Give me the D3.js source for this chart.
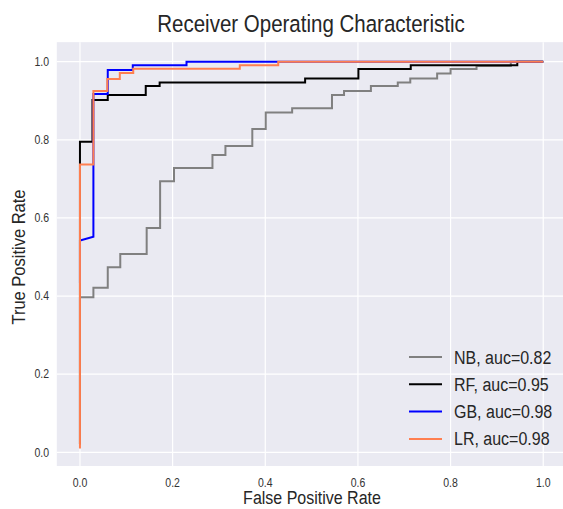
<!DOCTYPE html>
<html>
<head>
<meta charset="utf-8">
<script src="https://cdn.jsdelivr.net/npm/d3@7"></script>
<style>
  body { margin: 0; background: #fff; }
  text { font-family: "Liberation Sans", Arial, sans-serif; }
</style>
</head>
<body>
<div id="chart"></div>
<script>
// ROC points
const nbFpr = [0, 0, 0.029, 0.029, 0.06, 0.06, 0.087, 0.087, 0.144, 0.144, 0.173, 0.173, 0.203, 0.203, 0.286, 0.286, 0.314, 0.314, 0.372, 0.372, 0.401, 0.401, 0.458, 0.458, 0.544, 0.544, 0.57, 0.57, 0.628, 0.628, 0.686, 0.686, 0.713, 0.713, 0.771, 0.771, 0.8, 0.8, 0.856, 0.856, 0.93, 0.93, 1];
const nbTpr = [0.02, 0.397, 0.397, 0.421, 0.421, 0.474, 0.474, 0.508, 0.508, 0.574, 0.574, 0.694, 0.694, 0.728, 0.728, 0.761, 0.761, 0.784, 0.784, 0.828, 0.828, 0.87, 0.87, 0.881, 0.881, 0.915, 0.915, 0.925, 0.925, 0.938, 0.938, 0.947, 0.947, 0.957, 0.957, 0.97, 0.97, 0.981, 0.981, 0.989, 0.989, 1, 1];

const rfFpr = [0, 0, 0.027, 0.027, 0.06, 0.06, 0.142, 0.142, 0.172, 0.172, 0.486, 0.486, 0.601, 0.601, 0.714, 0.714, 0.944, 0.944, 1];
const rfTpr = [0.02, 0.795, 0.795, 0.902, 0.902, 0.915, 0.915, 0.938, 0.938, 0.947, 0.947, 0.957, 0.957, 0.981, 0.981, 0.991, 0.991, 1, 1];

const gbFpr = [0, 0, 0.029, 0.029, 0.06, 0.06, 0.114, 0.114, 0.23, 0.23, 1];
const gbTpr = [0.433, 0.542, 0.552, 0.917, 0.917, 0.979, 0.979, 0.991, 0.991, 1, 1];

const lrFpr = [0, 0, 0.029, 0.029, 0.059, 0.059, 0.086, 0.086, 0.115, 0.115, 0.345, 0.345, 0.428, 0.428, 1];
const lrTpr = [0.01, 0.737, 0.737, 0.925, 0.925, 0.956, 0.956, 0.971, 0.971, 0.982, 0.982, 0.991, 0.991, 1, 1];

const models = ["NB", "RF", "GB", "LR"];
const aucs = [0.82, 0.95, 0.98, 0.98];
const colors = ["#808080", "#000000", "#0000ff", "#ff7f50"];
const ticks = [0, 0.2, 0.4, 0.6, 0.8, 1.0];

const series = [[nbFpr, nbTpr], [rfFpr, rfTpr], [gbFpr, gbTpr], [lrFpr, lrTpr]]
    .map((s, i) => ({
        name: models[i], auc: aucs[i], color: colors[i],
        pts: s[0].map((f, j) => [f, s[1][j]])
    }));

const width = 563, height = 509;
const stretch = 1.13; // text in the picture is a bit taller than wide

const svg = d3.select("#chart").append("svg")
    .attr("width", width).attr("height", height);

let x = d3.scaleLinear().domain([-0.05, 1.05]).range([56.8, 566.4]);
let y = d3.scaleLinear().domain([0, 1]).range([452.3, 61.7]);

// plot background
svg.append("rect")
    .attr("x", x(-0.05)).attr("y", y(1.05))
    .attr("width", x(1.05) - x(-0.05))
    .attr("height", y(-0.035) - y(1.05))
    .attr("fill", "#eaeaf2");

let g = svg.append("g");

g.selectAll(".vgrid").data(ticks).enter().append("line")
    .attr("x1", d => x(d)).attr("x2", d => x(d))
    .attr("y1", y(1.05)).attr("y2", y(-0.035))
    .attr("stroke", "#fff").attr("stroke-width", 1.2);

g.selectAll(".hgrid").data(ticks).enter().append("line")
    .attr("y1", d => y(d)).attr("y2", d => y(d))
    .attr("x1", x(-0.05)).attr("x2", x(1.05))
    .attr("stroke", "#fff").attr("stroke-width", 1.2);

// tick labels
g.selectAll(".xt").data(ticks).enter().append("text")
    .attr("transform", d => `translate(${x(d)}, 487) scale(1, ${stretch})`)
    .attr("text-anchor", "middle")
    .attr("font-size", 10.5).attr("fill", "#333")
    .text(d => d.toFixed(1));

g.selectAll(".yt").data(ticks).enter().append("text")
    .attr("transform", d => `translate(49, ${y(d) + 4.3}) scale(1, ${stretch})`)
    .attr("text-anchor", "end")
    .attr("font-size", 10.5).attr("fill", "#333")
    .text(d => d.toFixed(1));

// curves
let line = d3.line().x(d => x(d[0])).y(d => y(d[1]));

g.selectAll(".curve").data(series).enter().append("path")
    .attr("d", d => line(d.pts))
    .attr("fill", "none")
    .attr("stroke", d => d.color)
    .attr("stroke-width", 2);

// legend
let leg = g.selectAll(".leg").data(series).enter().append("g")
    .attr("transform", (d, i) => `translate(409, ${357 + i * 27.3})`);
leg.append("line").attr("x1", 0).attr("x2", 33)
    .attr("stroke", d => d.color).attr("stroke-width", 2);
leg.append("text")
    .attr("transform", `translate(45, 6.5) scale(1, ${stretch})`)
    .attr("font-size", 16).attr("fill", "#262626")
    .text(d => `${d.name}, auc=${d.auc.toFixed(2)}`);

// titles
svg.append("text")
    .attr("transform", `translate(311, 32) scale(1, ${stretch})`)
    .attr("text-anchor", "middle").attr("font-size", 20.5).attr("fill", "#262626")
    .text("Receiver Operating Characteristic");

svg.append("text")
    .attr("transform", `translate(312, 504) scale(1, ${stretch})`)
    .attr("text-anchor", "middle").attr("font-size", 16).attr("fill", "#262626")
    .text("False Positive Rate");

svg.append("text")
    .attr("transform", `translate(25, 257) rotate(-90) scale(1, ${stretch})`)
    .attr("text-anchor", "middle").attr("font-size", 16.5).attr("fill", "#262626")
    .text("True Positive Rate");
</script>
</body>
</html>
